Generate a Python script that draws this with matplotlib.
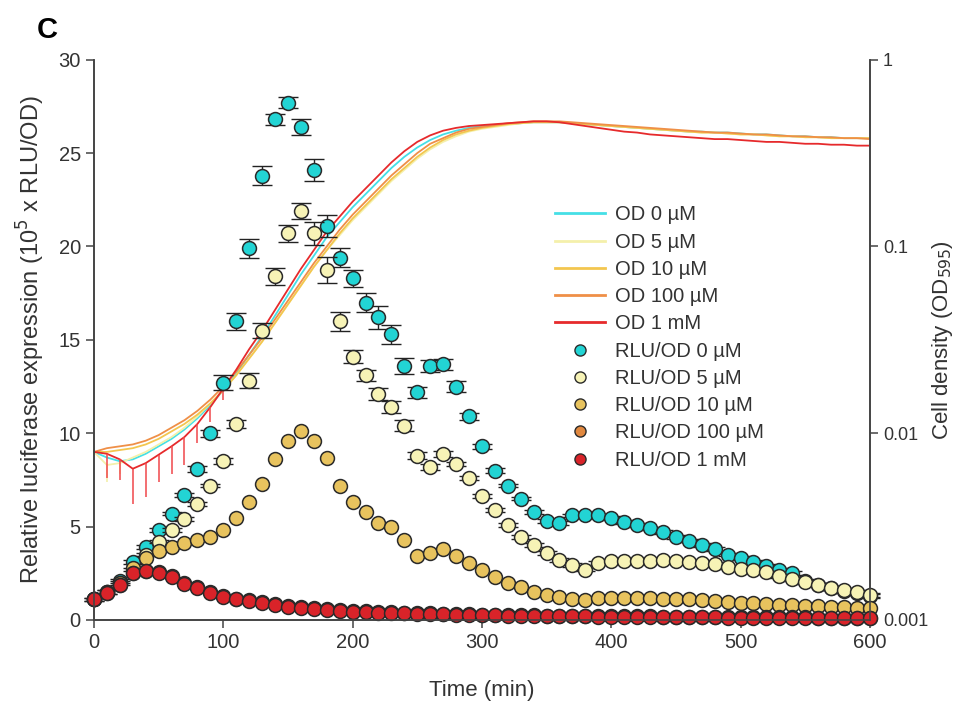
import numpy as np
import matplotlib
matplotlib.use("Agg")
import matplotlib.pyplot as plt
from matplotlib.ticker import FixedLocator, NullLocator, FuncFormatter
from matplotlib.lines import Line2D

plt.rcParams['font.family'] = ['Liberation Sans', 'DejaVu Sans']

# ---- data ----
time = np.arange(0, 601, 10)

# RLU/OD (10^5 x RLU/OD)
rlu_0uM = [1.1, 1.5, 2.1, 3.1, 3.9, 4.8, 5.7, 6.7, 8.1, 10.0,
           12.7, 16.0, 19.9, 23.8, 26.8, 27.7, 26.4, 24.1, 21.1, 19.4,
           18.3, 17.0, 16.2, 15.3, 13.6, 12.2, 13.6, 13.7, 12.5, 10.9,
           9.3, 8.0, 7.2, 6.5, 5.8, 5.3, 5.2, 5.6, 5.6, 5.6,
           5.45, 5.25, 5.1, 4.9, 4.7, 4.45, 4.25, 4.0, 3.8, 3.5,
           3.3, 3.1, 2.9, 2.7, 2.5, 2.1, 1.9, 1.7, 1.55, 1.45,
           1.3]
rlu_5uM = [1.1, 1.5, 2.0, 2.7, 3.5, 4.2, 4.8, 5.4, 6.2, 7.2,
           8.5, 10.5, 12.8, 15.5, 18.4, 20.7, 21.9, 20.7, 18.75, 16.0,
           14.1, 13.1, 12.1, 11.4, 10.4, 8.8, 8.2, 8.9, 8.35, 7.6,
           6.65, 5.9, 5.1, 4.45, 4.0, 3.6, 3.2, 2.95, 2.7, 3.05,
           3.15, 3.15, 3.15, 3.15, 3.2, 3.15, 3.1, 3.05, 3.0, 2.85,
           2.75, 2.7, 2.55, 2.35, 2.2, 2.05, 1.9, 1.7, 1.6, 1.5,
           1.35]
rlu_10uM = [1.1, 1.5, 2.0, 2.8, 3.3, 3.7, 3.9, 4.1, 4.3, 4.45,
            4.8, 5.45, 6.3, 7.3, 8.6, 9.6, 10.1, 9.6, 8.7, 7.2,
            6.3, 5.8, 5.2, 5.0, 4.3, 3.4, 3.6, 3.8, 3.4, 3.05,
            2.7, 2.3, 2.0, 1.75, 1.5, 1.35, 1.25, 1.15, 1.05, 1.2,
            1.2, 1.2, 1.2, 1.2, 1.15, 1.15, 1.1, 1.05, 1.0, 0.95,
            0.9, 0.9, 0.85, 0.8, 0.8, 0.75, 0.75, 0.7, 0.7, 0.65,
            0.65]
rlu_100uM = [1.1, 1.45, 1.9, 2.5, 2.65, 2.55, 2.35, 2.0, 1.75, 1.5,
             1.3, 1.15, 1.05, 0.95, 0.85, 0.75, 0.7, 0.65, 0.6, 0.55,
             0.5, 0.47, 0.44, 0.41, 0.39, 0.37, 0.35, 0.33, 0.31, 0.3,
             0.29, 0.28, 0.27, 0.26, 0.25, 0.24, 0.23, 0.22, 0.21, 0.21,
             0.2, 0.2, 0.19, 0.19, 0.18, 0.18, 0.17, 0.17, 0.16, 0.16,
             0.15, 0.15, 0.15, 0.14, 0.14, 0.14, 0.13, 0.13, 0.13, 0.12,
             0.12]
rlu_1mM = [1.1, 1.45, 1.85, 2.5, 2.6, 2.5, 2.3, 1.95, 1.7, 1.45,
           1.25, 1.1, 1.0, 0.9, 0.8, 0.7, 0.65, 0.6, 0.55, 0.5,
           0.45, 0.42, 0.4, 0.38, 0.36, 0.34, 0.32, 0.3, 0.28, 0.27,
           0.26, 0.25, 0.24, 0.23, 0.22, 0.21, 0.2, 0.2, 0.19, 0.18,
           0.18, 0.17, 0.17, 0.16, 0.16, 0.15, 0.15, 0.14, 0.14, 0.13,
           0.13, 0.13, 0.12, 0.12, 0.12, 0.11, 0.11, 0.11, 0.1, 0.1,
           0.1]

err_0uM = [0.1, 0.1, 0.1, 0.1, 0.1, 0.1, 0.1, 0.1, 0.15, 0.2,
           0.4, 0.45, 0.5, 0.5, 0.3, 0.3, 0.45, 0.6, 0.6, 0.5,
           0.45, 0.5, 0.6, 0.5, 0.45, 0.3, 0.3, 0.3, 0.3, 0.2,
           0.15, 0.15, 0.1, 0.1, 0.1, 0.1, 0.1, 0.1, 0.1, 0.1,
           0.1, 0.1, 0.1, 0.1, 0.1, 0.1, 0.1, 0.1, 0.1, 0.1,
           0.1, 0.1, 0.1, 0.1, 0.1, 0.1, 0.1, 0.1, 0.1, 0.1,
           0.1]
err_5uM = [0.1, 0.1, 0.1, 0.1, 0.1, 0.1, 0.1, 0.1, 0.1, 0.1,
           0.15, 0.2, 0.4, 0.4, 0.45, 0.45, 0.45, 0.6, 0.7, 0.5,
           0.35, 0.3, 0.3, 0.3, 0.3, 0.2, 0.15, 0.15, 0.1, 0.1,
           0.1, 0.1, 0.1, 0.1, 0.1, 0.1, 0.1, 0.1, 0.1, 0.1,
           0.1, 0.1, 0.1, 0.1, 0.1, 0.1, 0.1, 0.1, 0.1, 0.1,
           0.1, 0.1, 0.1, 0.1, 0.1, 0.1, 0.1, 0.1, 0.1, 0.1,
           0.1]

# cell density, log10(OD595)
od_0uM = [-2.10, -2.13, -2.15, -2.14, -2.11, -2.07, -2.03, -1.98, -1.92, -1.85,
          -1.77, -1.68, -1.58, -1.48, -1.37, -1.26, -1.15, -1.05, -0.95, -0.87,
          -0.79, -0.72, -0.65, -0.58, -0.52, -0.47, -0.43, -0.40, -0.38, -0.365,
          -0.355, -0.35, -0.345, -0.34, -0.335, -0.335, -0.335, -0.34, -0.345, -0.35,
          -0.355, -0.36, -0.365, -0.37, -0.375, -0.38, -0.385, -0.385, -0.39, -0.39,
          -0.395, -0.40, -0.40, -0.405, -0.41, -0.41, -0.415, -0.415, -0.42, -0.42,
          -0.42]
od_5uM = [-2.10, -2.17, -2.16, -2.13, -2.10, -2.06, -2.02, -1.97, -1.91, -1.84,
          -1.77, -1.69, -1.60, -1.51, -1.41, -1.31, -1.21, -1.11, -1.02, -0.94,
          -0.86, -0.79, -0.72, -0.65, -0.59, -0.53, -0.48, -0.44, -0.41, -0.385,
          -0.37, -0.36, -0.35, -0.34, -0.335, -0.335, -0.335, -0.34, -0.345, -0.35,
          -0.355, -0.36, -0.365, -0.37, -0.375, -0.38, -0.385, -0.39, -0.39, -0.395,
          -0.40, -0.40, -0.405, -0.41, -0.41, -0.415, -0.415, -0.42, -0.42, -0.42,
          -0.42]
od_10uM = [-2.10, -2.10, -2.09, -2.08, -2.06, -2.03, -1.99, -1.95, -1.90, -1.84,
           -1.77, -1.69, -1.60, -1.51, -1.41, -1.31, -1.21, -1.11, -1.02, -0.93,
           -0.85, -0.78, -0.71, -0.64, -0.58, -0.52, -0.47, -0.43, -0.40, -0.38,
           -0.365, -0.355, -0.345, -0.34, -0.335, -0.335, -0.335, -0.34, -0.345, -0.35,
           -0.355, -0.36, -0.365, -0.37, -0.375, -0.38, -0.385, -0.39, -0.39, -0.395,
           -0.40, -0.40, -0.405, -0.41, -0.41, -0.415, -0.415, -0.42, -0.42, -0.42,
           -0.42]
od_100uM = [-2.10, -2.08, -2.07, -2.06, -2.04, -2.01, -1.97, -1.93, -1.88, -1.82,
            -1.75, -1.67, -1.58, -1.49, -1.39, -1.29, -1.19, -1.09, -1.00, -0.91,
            -0.83, -0.76, -0.69, -0.62, -0.56, -0.50, -0.45, -0.42, -0.39, -0.37,
            -0.36, -0.35, -0.34, -0.335, -0.33, -0.33, -0.33, -0.335, -0.34, -0.345,
            -0.35, -0.355, -0.36, -0.365, -0.37, -0.375, -0.38, -0.385, -0.39, -0.39,
            -0.395, -0.40, -0.40, -0.405, -0.41, -0.41, -0.415, -0.415, -0.42, -0.42,
            -0.425]
od_1mM = [-2.10, -2.11, -2.14, -2.19, -2.16, -2.115, -2.07, -2.02, -1.95, -1.86,
          -1.76, -1.66, -1.55, -1.45, -1.34, -1.23, -1.12, -1.02, -0.92, -0.84,
          -0.76, -0.69, -0.62, -0.55, -0.49, -0.44, -0.405, -0.38, -0.365, -0.355,
          -0.35, -0.345, -0.34, -0.335, -0.33, -0.33, -0.335, -0.345, -0.355, -0.365,
          -0.375, -0.385, -0.39, -0.40, -0.405, -0.41, -0.415, -0.42, -0.425, -0.425,
          -0.43, -0.435, -0.44, -0.44, -0.445, -0.45, -0.45, -0.455, -0.455, -0.46,
          -0.46]
# lower ends of the OD error bars over the first 100 min (log10)
od_1mM_low = [-2.10, -2.24, -2.25, -2.38, -2.34, -2.26, -2.22, -2.17, -2.05, -1.94, -1.82]
od_5uM_low = [-2.10, -2.26, -2.22]

labels = ['0 µM', '5 µM', '10 µM', '100 µM', '1 mM']
line_colors = ['#45dfe6', '#f4f0ab', '#f3c64f', '#ef8f47', '#e62a2c']
dot_colors = ['#22d4d4', '#f7f3b6', '#e8c35e', '#e1883f', '#d92329']
rlu_series = [rlu_0uM, rlu_5uM, rlu_10uM, rlu_100uM, rlu_1mM]
od_series = [od_0uM, od_5uM, od_10uM, od_100uM, od_1mM]
text_c = '#333333'

fig = plt.figure(figsize=(9.59, 7.11), dpi=100)
ax = fig.add_axes([0.098, 0.128, 0.809, 0.788])
ax2 = ax.twinx()
ax.set_zorder(ax2.get_zorder() + 1)
ax.patch.set_visible(False)

# OD lines on the log axis
for od, c in zip(od_series, line_colors):
    ax2.plot(time, 10 ** np.array(od), color=c, lw=1.3)
ax2.vlines(time[:3], 10 ** np.array(od_5uM_low), 10 ** np.array(od_5uM[:3]),
           color=line_colors[1], lw=1.2)
ax2.vlines(time[:11], 10 ** np.array(od_1mM_low), 10 ** np.array(od_1mM[:11]),
           color='#f0474a', lw=1.1)

# RLU/OD points
errs = [err_0uM, err_5uM, None, None, None]
for rlu, c, e in zip(rlu_series, dot_colors, errs):
    if e is not None:
        ax.errorbar(time, rlu, yerr=e, fmt='none', ecolor='#222222',
                    elinewidth=1.0, capsize=7, capthick=1.0, clip_on=False)
    ax.plot(time, rlu, 'o', ms=10, mfc=c, mec='#2a2a2a', mew=1.1,
            clip_on=False, ls='none')

ax.set_xlim(0, 600)
ax.set_ylim(0, 30)
ax2.set_yscale('log')
ax2.set_ylim(0.001, 1)
ax2.yaxis.set_major_locator(FixedLocator([0.001, 0.01, 0.1, 1]))
ax2.yaxis.set_minor_locator(NullLocator())
ax2.yaxis.set_major_formatter(FuncFormatter(lambda v, p: '%g' % v))

ax.set_xticks(np.arange(0, 601, 100))
ax.set_yticks(np.arange(0, 31, 5))
for a, fs in ((ax, 14.5), (ax2, 13)):
    a.spines['top'].set_visible(False)
    for s in a.spines.values():
        s.set_color('#444444')
        s.set_linewidth(1.2)
    a.tick_params(direction='out', length=6, width=1.1, color='#444444',
                  labelsize=fs, labelcolor=text_c)

ax.set_xlabel('Time (min)', fontsize=16, color=text_c, labelpad=20)
ax.set_ylabel('Relative luciferase expression (10$^5$ x RLU/OD)',
              fontsize=17, color=text_c, labelpad=8)
ax2.set_ylabel('Cell density (OD$_{595}$)', fontsize=16, color=text_c, labelpad=1)

fig.text(0.038, 0.958, 'C', fontsize=21, fontweight='bold', va='center')

handles = []
names = []
for c, l in zip(line_colors, labels):
    handles.append(Line2D([], [], color=c, lw=2))
    names.append('OD ' + l)
for c, l in zip(dot_colors, labels):
    handles.append(Line2D([], [], marker='o', ls='none', ms=8, mfc=c,
                          mec='#2a2a2a', mew=1.0))
    names.append('RLU/OD ' + l)
ax.legend(handles, names, loc='upper left', bbox_to_anchor=(0.594, 0.74),
          frameon=False, fontsize=14.5, handlelength=2.5, handletextpad=0.5,
          labelspacing=0.41, borderpad=0, borderaxespad=0, labelcolor=text_c)

fig.savefig('out.png', dpi=100)
